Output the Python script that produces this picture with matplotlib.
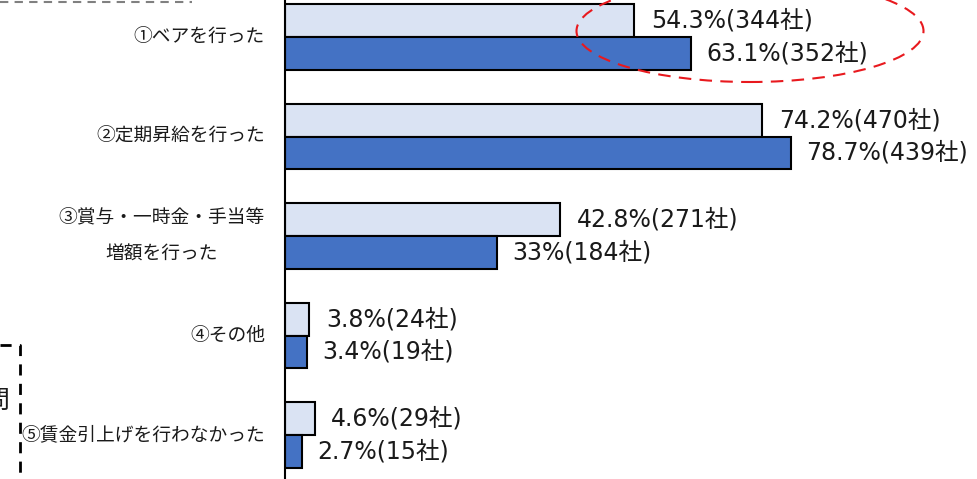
import matplotlib
matplotlib.use("Agg")
import matplotlib.pyplot as plt
from matplotlib.patches import Ellipse
from matplotlib.lines import Line2D

categories = ["①ベアを行った", "②定期昇給を行った", "③賞与・一時金・手当等\n増額を行った",
              "④その他", "⑤賃金引上げを行わなかった"]
pct_prev = [54.3, 74.2, 42.8, 3.8, 4.6]
cnt_prev = [344, 470, 271, 24, 29]
pct_curr = [63.1, 78.7, 33, 3.4, 2.7]
cnt_curr = [352, 439, 184, 19, 15]

LIGHT = "#DAE3F3"
DARK = "#4472C4"
jp_font = ["Noto Sans CJK JP", "DejaVu Sans"]
num_font = ["DejaVu Sans", "Noto Sans CJK JP"]

W, H = 978, 479
fig = plt.figure(figsize=(W / 100, H / 100), dpi=100)
ax = fig.add_axes([285 / W, 0, 1 - 285 / W, 1])

h = 0.33
ys = range(len(categories))
ax.barh([y - h / 2 for y in ys], pct_prev, height=h, color=LIGHT,
        edgecolor="black", linewidth=1.5)
ax.barh([y + h / 2 for y in ys], pct_curr, height=h, color=DARK,
        edgecolor="black", linewidth=1.5)

for y, p, c in zip(ys, pct_prev, cnt_prev):
    ax.annotate(f"{p:g}%({c}社)", (p, y - h / 2), xytext=(12, 0),
                textcoords="offset points", va="center", ha="left",
                fontsize=17, family=num_font, color="#1a1a1a")
for y, p, c in zip(ys, pct_curr, cnt_curr):
    ax.annotate(f"{p:g}%({c}社)", (p, y + h / 2), xytext=(11, 0),
                textcoords="offset points", va="center", ha="left",
                fontsize=17, family=num_font, color="#1a1a1a")

# category labels to the left of the axis line
for y, name in zip(ys, categories):
    ax.text(-20 / (W - 285), y, name, transform=ax.get_yaxis_transform(),
            ha="right", va="center", multialignment="center",
            fontsize=13.5, family=jp_font, color="#1a1a1a",
            linespacing=1.95, clip_on=False)

ax.set_xlim(0, (W - 285) / 6.43)
ax.set_ylim(4.442, -0.372)
ax.set_xticks([])
ax.set_yticks([])
for s in ["top", "right", "bottom"]:
    ax.spines[s].set_visible(False)
ax.spines["left"].set_linewidth(1.5)
ax.spines["left"].set_color("black")

# red dashed ellipse around the first group's values
fig.patches.append(Ellipse((750 / W, 1 - 31 / H), 347 / W, 102 / H,
                           transform=fig.transFigure, fill=False,
                           edgecolor="#E8191E", linewidth=1.5,
                           linestyle=(0, (6, 4))))

# dashed frames on the left edge
fig.lines.append(Line2D([0, 192 / W], [1 - 2 / H, 1 - 2 / H],
                        transform=fig.transFigure, color="#808080",
                        linewidth=1.5, linestyle=(0, (4, 3))))
fig.lines.append(Line2D([0, 20 / W, 20 / W], [1 - 345 / H, 1 - 345 / H, 0],
                        transform=fig.transFigure, color="black",
                        linewidth=2, linestyle=(0, (4, 3))))
fig.text(10 / W, 1 - 401 / H, "問", ha="right", va="center",
         fontsize=18, family=jp_font, color="#1a1a1a")

fig.savefig("out.png", dpi=100)
